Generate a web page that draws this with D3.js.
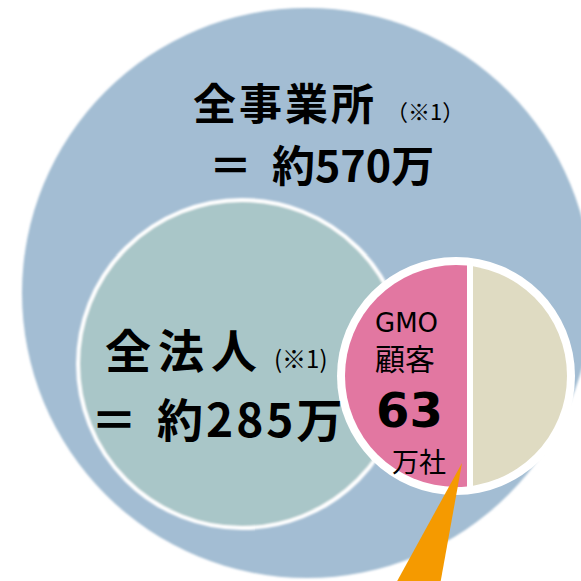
<!DOCTYPE html>
<html>
<head>
<meta charset="utf-8">
<script src="https://cdn.jsdelivr.net/npm/d3@7"></script>
<style>
  html, body { margin: 0; padding: 0; background: #fff; }
  #chart { width: 581px; height: 581px; }
  text { fill: #000; white-space: pre; }
</style>
</head>
<body>
<div id="chart"></div>
<script>
// values (万)
const circleNames = ["全事業所", "全法人"];
const circleCounts = [570, 285];
const noteMark = "※1";
const gmoLabel = ["GMO", "顧客"];
const gmoCount = 63;
const gmoUnit = "万社";
// share of the small disc: GMO customers vs the rest
const pieNames = ["GMO顧客", "その他"];
const pieShares = [58, 42];

const W = 581, H = 581;
const JP = '"Noto Sans CJK JP", sans-serif';
const LAT = '"DejaVu Sans", sans-serif';

// layout of the diagram (not data)
const outer = {cx: 307, cy: 293, r: 285};
const inner = {cx: 242, cy: 364, r: 164};
const disc = {cx: 456, cy: 376, r: 111, ring: 8, gap: 6};

const svg = d3.select("#chart").append("svg")
    .attr("width", W)
    .attr("height", H)
    .attr("viewBox", `0 0 ${W} ${H}`);

const defs = svg.append("defs");
defs.append("filter").attr("id", "soft")
    .append("feGaussianBlur").attr("stdDeviation", 0.9);

// big circles
svg.append("circle")
    .attr("cx", outer.cx).attr("cy", outer.cy).attr("r", outer.r)
    .attr("fill", "#a3bdd3")
    .attr("filter", "url(#soft)");

svg.append("circle")
    .attr("cx", inner.cx).attr("cy", inner.cy).attr("r", inner.r)
    .attr("fill", "#a9c6c8")
    .attr("stroke", "#fff")
    .attr("stroke-width", 4)
    .attr("filter", "url(#soft)");

// small disc split by a vertical chord so that the areas follow pieShares
const total = d3.sum(pieShares);
const rightFrac = pieShares[1] / total;
function areaRight(d, r) {
    return (r * r * Math.acos(d / r) - d * Math.sqrt(r * r - d * d)) / (Math.PI * r * r);
}
let lo = -disc.r, hi = disc.r;
for (let i = 0; i < 60; i++) {
    const mid = (lo + hi) / 2;
    if (areaRight(mid, disc.r) > rightFrac) lo = mid; else hi = mid;
}
const chordX = disc.cx + (lo + hi) / 2;

const xSplit = d3.scaleOrdinal()
    .domain(pieNames)
    .range([[disc.cx - disc.r - 2, chordX - disc.gap / 2], [chordX + disc.gap / 2, disc.cx + disc.r + 2]]);
const pieColor = d3.scaleOrdinal().domain(pieNames).range(["#e277a1", "#dfdbc2"]);

svg.append("circle")
    .attr("cx", disc.cx).attr("cy", disc.cy).attr("r", disc.r + disc.ring)
    .attr("fill", "#fff");

pieNames.forEach((name, i) => {
    const [x0, x1] = xSplit(name);
    defs.append("clipPath").attr("id", `clip${i}`)
        .append("rect")
        .attr("x", x0).attr("y", disc.cy - disc.r - 2)
        .attr("width", x1 - x0).attr("height", disc.r * 2 + 4);
    svg.append("circle")
        .attr("cx", disc.cx).attr("cy", disc.cy).attr("r", disc.r)
        .attr("fill", pieColor(name))
        .attr("clip-path", `url(#clip${i})`);
});

// orange pointer
svg.append("path")
    .attr("d", d3.line()([[462, 463], [440, 585], [395, 585]]) + "Z")
    .attr("fill", "#f59a00");

// "＝ 約NNN万" line
function countLine(x, y, size, count, gap, digitSpace) {
    const t = svg.append("text")
        .attr("x", x).attr("y", y)
        .style("font-family", JP)
        .style("font-size", size + "px")
        .style("font-weight", 700);
    t.append("tspan").text("＝");
    t.append("tspan").attr("dx", gap).text("約");
    t.append("tspan").attr("dx", digitSpace).style("letter-spacing", digitSpace + "px").text(count);
    t.append("tspan").text("万");
}

// labels for the big circles
svg.append("text")
    .attr("x", 193).attr("y", 120)
    .style("font-family", JP)
    .style("font-size", "43px").style("font-weight", 700)
    .style("letter-spacing", "3px")
    .text(circleNames[0]);
svg.append("text")
    .attr("x", 386).attr("y", 120)
    .style("font-family", JP)
    .style("font-size", "22px")
    .text(`（${noteMark}）`);
countLine(209, 182, 43, circleCounts[0], 20, 0);

svg.append("text")
    .attr("x", 105).attr("y", 368)
    .style("font-family", JP)
    .style("font-size", "46px").style("font-weight", 700)
    .style("letter-spacing", "7px")
    .text(circleNames[1]);
svg.append("text")
    .attr("x", 274).attr("y", 368)
    .style("font-family", JP)
    .style("font-size", "24px")
    .text(`(${noteMark})`);
countLine(91, 437, 46, circleCounts[1], 20, 3);

// labels inside the pink part
svg.append("text")
    .attr("x", 375).attr("y", 332)
    .style("font-family", LAT)
    .style("font-size", "26px")
    .text(gmoLabel[0]);
svg.append("text")
    .attr("x", 375).attr("y", 370)
    .style("font-family", JP)
    .style("font-size", "30px")
    .text(gmoLabel[1]);
svg.append("text")
    .attr("x", 376).attr("y", 427)
    .style("font-family", LAT)
    .style("font-size", "48px").style("font-weight", 700)
    .text(gmoCount);
svg.append("text")
    .attr("x", 392).attr("y", 472)
    .style("font-family", JP)
    .style("font-size", "27px")
    .text(gmoUnit);
</script>
</body>
</html>
